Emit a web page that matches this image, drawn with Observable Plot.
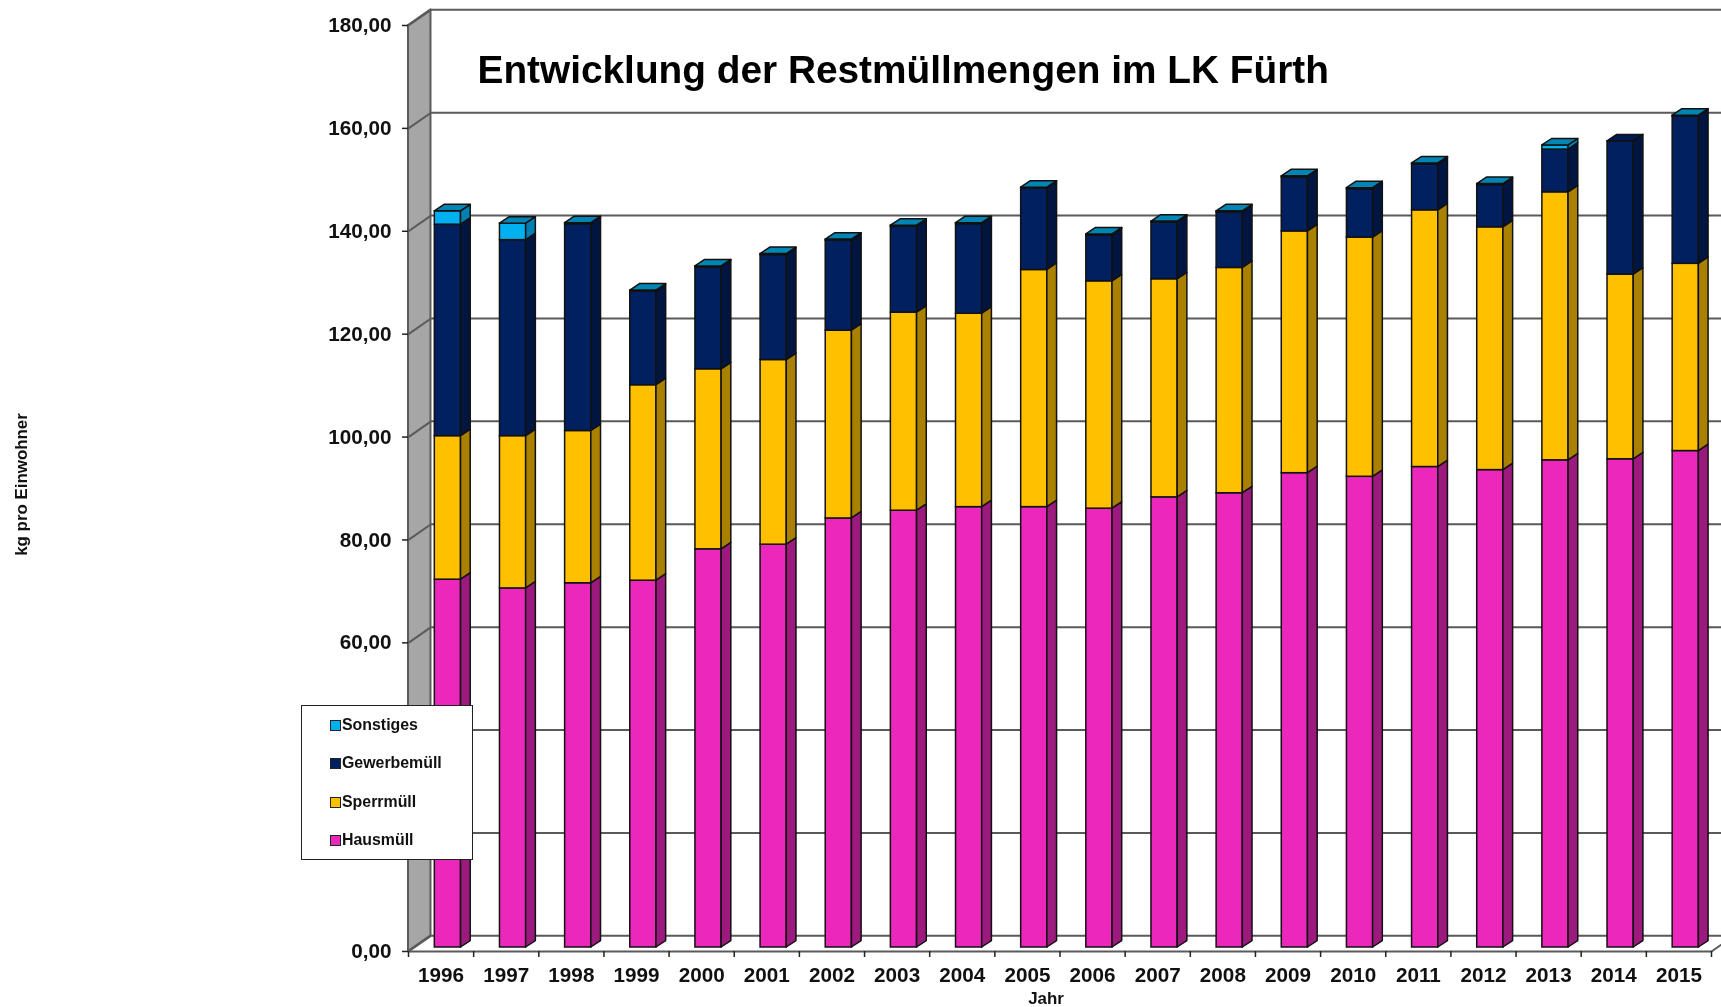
<!DOCTYPE html>
<html><head><meta charset="utf-8">
<script src="https://cdn.jsdelivr.net/npm/d3@7"></script>
<script src="https://cdn.jsdelivr.net/npm/@observablehq/plot@0.6"></script>
<style>
html,body{margin:0;padding:0;background:#fff;overflow:hidden}
#wrap{position:relative;width:1721px;height:1007px;font-family:"Liberation Sans",Arial,sans-serif;filter:blur(0.45px)}
#wrap svg{display:block}
#legend{position:absolute;left:301px;top:705px;width:172px;height:155px;background:#fff;border:1px solid #222;box-sizing:border-box}
.row{position:absolute;left:0;height:20px;line-height:20px;font-weight:bold;font-size:15.9px;color:#111;white-space:nowrap}
.row i{position:absolute;left:28px;top:5px;width:9px;height:9px;border:1px solid #222;box-sizing:content-box}
.row span{position:absolute;left:40px}
</style></head><body><div id="wrap"></div>
<script>
const years = [1996,1997,1998,1999,2000,2001,2002,2003,2004,2005,2006,2007,2008,2009,2010,2011,2012,2013,2014,2015];
const hausmuell   = [71.5,69.8,70.8,71.3,77.4,78.3,83.4,84.9,85.6,85.6,85.3,87.5,88.3,92.2,91.5,93.4,92.8,94.7,94.9,96.5];
const sperrmuell  = [27.9,29.6,29.6,38.0,35.0,35.9,36.5,38.5,37.6,46.1,44.2,42.4,43.8,47.0,46.5,49.9,47.2,52.1,35.9,36.4];
const gewerbemuell= [41.1,38.1,40.2,18.2,19.8,20.4,17.5,16.7,17.4,15.8,8.9,11.0,10.8,10.5,9.4,8.9,8.2,8.3,25.9,28.6];
const sonstiges   = [2.6,3.2,0.2,0.2,0.2,0.2,0.2,0.2,0.2,0.2,0.2,0.2,0.2,0.2,0.2,0.2,0.2,0.8,0,0.2];
const seriesNames = ["Hausmüll","Sperrmüll","Gewerbemüll","Sonstiges"];
const seriesValues = [hausmuell,sperrmuell,gewerbemuell,sonstiges];
const frontColors = ["#EC27BC","#FFC000","#002060","#00B0F0"];
const sideColors  = ["#9C1A7D","#A98000","#001540","#0080B0"];
const topColors   = ["#C41F9C","#D4A000","#001A50","#0085B5"];
const yTicks = [0,20,40,60,80,100,120,140,160,180];
const hiddenByLegend = [20,40];
const titleText = "Entwicklung der Restmüllmengen im LK Fürth";
const yTitle = "kg pro Einwohner";
const xTitle = "Jahr";

// depth of the box and of the bars, in data units
const wallDx = 0.345, wallDy = 3.05, barDx = 0.149, barDy = 1.26, barL = 0.404, barR = 0.806, barShift = -4;
const gridColor = "#5a5a5a";
const outline = "#111";

const fronts = [], sides = [], tops = [];
years.forEach((yr,i)=>{
  let base = 0, lastIdx = 0;
  seriesValues.forEach((vals,s)=>{
    const v = vals[i];
    if (v <= 0) return;
    fronts.push({s, x1:i+barL, x2:i+barR, y1:base, y2:base+v});
    sides.push({s, id:`${i}-${s}`, x:i+barR, lo:base, hi:base+v});
    sides.push({s, id:`${i}-${s}`, x:i+barR+barDx, lo:base+barDy, hi:base+v+barDy});
    base += v; lastIdx = s;
  });
  tops.push({s:lastIdx, id:i, y:base, a:i+barL, b:i+barR});
  tops.push({s:lastIdx, id:i, y:base+barDy, a:i+barL+barDx, b:i+barR+barDx});
});

const gridLines = yTicks.slice(1).flatMap(t=>[
  {t,x:0,y:t},{t,x:wallDx,y:t+wallDy},{t,x:20+wallDx,y:t+wallDy}
]);
const wallPts = [{x:0,lo:0,hi:180},{x:wallDx,lo:wallDy,hi:180+wallDy}];
const floorLines = [
  {k:"f",x:0,y:0},{k:"f",x:20,y:0},{k:"f",x:20+wallDx,y:wallDy},
  {k:"b",x:0,y:0},{k:"b",x:wallDx,y:wallDy},{k:"b",x:20+wallDx,y:wallDy}
];

const fmt = v => hiddenByLegend.includes(v) ? "" : v.toFixed(2).replace(".",",");

const plot = Plot.plot({
  width:1721, height:1007,
  marginLeft:408, marginRight:10, marginTop:25, marginBottom:56,
  style:{fontFamily:"Liberation Sans, Arial, sans-serif", background:"#fff", overflow:"hidden"},
  x:{domain:[0,20]},
  y:{domain:[0,180]},
  marks:[
    Plot.area(wallPts,{x1:"x",y1:"lo",y2:"hi",fill:"#A6A6A6",stroke:gridColor,strokeWidth:2}),
    Plot.line(gridLines,{x:"x",y:"y",z:"t",stroke:gridColor,strokeWidth:2}),
    Plot.line(floorLines,{x:"x",y:"y",z:"k",stroke:gridColor,strokeWidth:2}),
    ...seriesNames.map((_,s)=>Plot.rect(fronts.filter(d=>d.s===s),{x1:"x1",x2:"x2",y1:"y1",y2:"y2",dy:barShift,fill:frontColors[s],stroke:outline,strokeWidth:1.5})),
    ...seriesNames.map((_,s)=>Plot.area(sides.filter(d=>d.s===s),{x1:"x",y1:"lo",y2:"hi",z:"id",dy:barShift,fill:sideColors[s],stroke:outline,strokeWidth:1.5})),
    ...seriesNames.map((_,s)=>Plot.area(tops.filter(d=>d.s===s),{y1:"y",x1:"a",x2:"b",z:"id",dy:barShift,fill:topColors[s],stroke:outline,strokeWidth:1.5})),
    Plot.ruleX(d3.range(0,21),{y1:0,y2:0,insetBottom:-6,stroke:"#222",strokeWidth:1.5}),
    Plot.axisY({ticks:yTicks,tickFormat:fmt,tickSize:6,tickPadding:11,fontSize:20.7,fontWeight:"bold",color:"#111",stroke:"#222",strokeWidth:1.5,label:null}),
    Plot.axisX({ticks:years.map((_,i)=>i+0.5),tickFormat:(_,i)=>String(years[i]),tickSize:0,tickPadding:16,fontSize:20.7,fontWeight:"bold",color:"#111",label:null}),
    Plot.text([titleText],{frameAnchor:"top-left",dx:69,dy:30,textAnchor:"start",fontSize:38.8,fontWeight:"bold",fill:"#000"}),
    Plot.text([yTitle],{frameAnchor:"left",dx:-387,dy:-4,rotate:-90,textAnchor:"middle",fontSize:16.9,fontWeight:"bold",fill:"#111"}),
    Plot.text([xTitle],{frameAnchor:"bottom",dx:-14,dy:52,fontSize:16.9,fontWeight:"bold",fill:"#111"})
  ]
});
const wrap = document.getElementById("wrap");
wrap.appendChild(plot);

const legend = document.createElement("div");
legend.id = "legend";
[3,2,1,0].forEach((s,r)=>{
  const row = document.createElement("div");
  row.className = "row";
  row.style.top = (9+38.4*r)+"px";
  const sw = document.createElement("i");
  sw.style.background = frontColors[s];
  const t = document.createElement("span");
  t.textContent = seriesNames[s];
  row.append(sw,t);
  legend.appendChild(row);
});
wrap.appendChild(legend);
</script></body></html>
